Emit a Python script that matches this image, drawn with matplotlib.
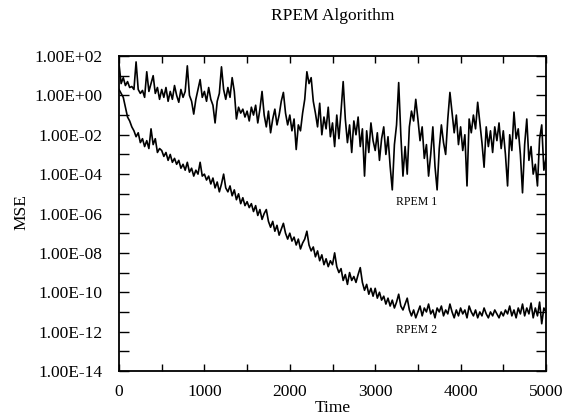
import numpy as np
import matplotlib
matplotlib.use("Agg")
import matplotlib.pyplot as plt
from matplotlib.ticker import FixedLocator, FuncFormatter

# time axis, one reading every 25 time units
time = np.arange(0, 5001, 25)

# log10(MSE), 20 values per 500 time units
rpem1_log = [
    1.6, 0.6, 0.9, 0.5, 0.7, 0.4, 0.45, 0.3, 1.7, 0.3, 0.1, 0.25, -0.1, 1.2, 0.2, 0.6, 1.0, 0.1, 0.4, -0.2,
    0.3, -0.1, 0.4, -0.3, 0.2, -0.2, 0.5, 0.0, -0.35, 0.3, -0.1, 0.2, 1.5, 0.0, -0.3, -0.95, -0.2, 0.3, 0.8, -0.1,
    0.2, -0.3, 0.4, -0.2, -0.5, -1.4, -0.3, 0.1, 1.45, 0.3, -0.2, 0.4, -0.1, 0.9, 0.2, -1.2, -0.6, -0.9, -0.7, -1.1,
    -0.8, -1.3, -0.6, -1.0, -0.5, -1.4, -0.7, 0.2, -1.0, -1.6, -0.8, -1.9, -1.2, -0.7, -1.5, -1.0, -0.3, 0.15, -0.9, -1.5,
    -1.0, -1.8, -1.2, -2.75, -1.5, -1.8, -0.9, -0.2, 1.2, 0.6, 0.9, -0.3, -0.9, -1.6, -0.4, -2.0, -1.1, -1.7, -0.6, -2.1,
    -1.4, -2.6, -1.0, -2.2, -0.8, 0.7, -1.2, -2.4, -1.5, -2.9, -1.3, -2.0, -1.1, -2.6, -1.7, -4.1, -1.8, -2.9, -1.4, -2.3,
    -2.8, -1.9, -3.3, -2.2, -1.6, -3.0, -2.1, -3.6, -4.8, -2.5, -1.5, 0.65, -2.0, -4.1, -2.6, -4.0, -1.6, -0.8, -1.3, -0.2,
    -1.2, -2.3, -1.6, -3.2, -2.5, -4.1, -3.0, -1.6, -3.6, -4.8, -2.7, -1.5, -2.4, -3.0, -1.2, 0.15, -0.9, -1.9, -1.0, -2.5,
    -1.6, -2.8, -2.0, -4.6, -1.2, -1.9, -1.0, -1.7, -0.35, -1.4, -2.4, -3.65, -1.6, -2.6, -1.8, -2.9, -1.6, -2.3, -1.4, -2.7,
    -1.8, -3.0, -4.6, -2.0, -2.8, -0.85, -2.2, -1.7, -3.0, -4.95, -2.5, -1.2, -3.3, -2.6, -4.0, -3.5, -4.6, -2.2, -1.5, -3.8,
    -3.2,
]

rpem2_log = [
    0.3, 0.1, -0.1, -0.6, -1.1, -1.3, -1.6, -1.8, -2.1, -1.9, -2.4, -2.2, -2.6, -2.3, -2.7, -1.7, -2.5, -2.2, -2.9, -2.7,
    -2.8, -3.1, -2.9, -3.3, -3.0, -3.4, -3.2, -3.5, -3.3, -3.7, -3.5, -3.8, -3.4, -3.9, -3.7, -4.1, -3.8, -4.0, -3.4, -4.1,
    -4.0, -4.3, -4.1, -4.5, -4.2, -4.7, -4.4, -4.9, -4.5, -4.0, -4.7, -4.9, -4.6, -5.1, -4.8, -5.3, -5.0, -5.5, -5.2, -5.6,
    -5.4, -5.7, -5.5, -5.9, -5.6, -6.1, -5.8, -6.3, -6.0, -5.8, -6.4, -6.7, -6.4, -6.9, -6.6, -7.1, -6.8, -6.5, -7.0, -7.3,
    -7.0, -7.4, -7.2, -7.6, -7.3, -7.8, -7.5, -7.3, -6.9, -7.6, -7.9, -7.7, -8.2, -7.9, -8.4, -8.1, -8.6, -8.3, -8.7, -8.4,
    -8.6, -8.0, -8.7, -9.0, -8.8, -9.4, -9.1, -9.6, -9.0, -9.4, -9.2, -9.5, -9.1, -8.75, -9.5, -9.9, -9.6, -10.1, -9.8, -10.2,
    -9.8, -10.3, -10.0, -10.4, -10.2, -10.6, -10.3, -10.7, -10.4, -10.8, -10.5, -10.1, -10.7, -10.9, -10.6, -10.3, -10.9, -11.2, -10.9, -11.3,
    -11.0, -10.7, -11.2, -10.8, -11.0, -10.6, -11.1, -10.9, -11.3, -10.8, -11.0, -10.7, -11.2, -10.9, -11.1, -10.6, -11.0, -11.3, -10.9, -11.2,
    -10.8, -11.1, -10.9, -11.3, -10.7, -11.0, -11.2, -10.9, -11.3, -11.0, -11.2, -10.8, -11.1, -11.3, -11.0, -11.2, -10.9, -11.1, -11.3, -11.0,
    -11.2, -10.9, -11.1, -10.7, -11.2, -10.9, -11.3, -10.8, -11.1, -10.6, -11.2, -10.8, -11.1, -10.55, -11.3, -10.8, -11.2, -10.5, -11.6, -10.8,
    -11.0,
]

y_exponents = list(range(-14, 3))
x_major = [0, 1000, 2000, 3000, 4000, 5000]
x_all = list(range(0, 5001, 500))

plt.rcParams["font.family"] = ["Liberation Serif", "DejaVu Serif"]

fig = plt.figure(figsize=(5.72, 4.18), dpi=100)
ax = fig.add_axes([119 / 572, 47 / 418, 427 / 572, 315 / 418])

ax.semilogy(time, 10.0 ** np.array(rpem1_log), color="black", lw=1.2)
ax.semilogy(time, 10.0 ** np.array(rpem2_log), color="black", lw=1.2)

ax.set_xlim(0, 5000)
ax.set_ylim(1e-14, 1e2)

ax.yaxis.set_major_locator(FixedLocator([10.0 ** e for e in y_exponents]))
ax.yaxis.set_minor_locator(FixedLocator([]))


def y_fmt(v, pos):
    e = int(round(np.log10(v)))
    if e % 2:
        return ""
    return "1.00E%s%02d" % ("+" if e >= 0 else "-", abs(e))


ax.yaxis.set_major_formatter(FuncFormatter(y_fmt))
ax.xaxis.set_major_locator(FixedLocator(x_all))
ax.xaxis.set_major_formatter(
    FuncFormatter(lambda v, pos: "%d" % v if int(v) in x_major else ""))

ax.tick_params(direction="in", width=1.0, top=True, right=True,
               labelsize=12.5)
ax.tick_params(axis="x", length=5, pad=9)
ax.tick_params(axis="y", length=7, pad=12)
for s in ax.spines.values():
    s.set_linewidth(1.3)

ax.text(0.698, 0.536, "RPEM 1", transform=ax.transAxes, ha="center",
        va="center", fontsize=8.5)
ax.text(0.698, 0.13, "RPEM 2", transform=ax.transAxes, ha="center",
        va="center", fontsize=8.5)

fig.text(333 / 572, 1 - 16 / 418, "RPEM Algorithm", ha="center",
         va="center", fontsize=12.5)
fig.text(21 / 572, 1 - 212 / 418, "MSE", ha="center", va="center",
         rotation=90, fontsize=12.5)
fig.text(333 / 572, 1 - 408 / 418, "Time", ha="center", va="center",
         fontsize=12.5)

fig.savefig("out.png", dpi=100)
